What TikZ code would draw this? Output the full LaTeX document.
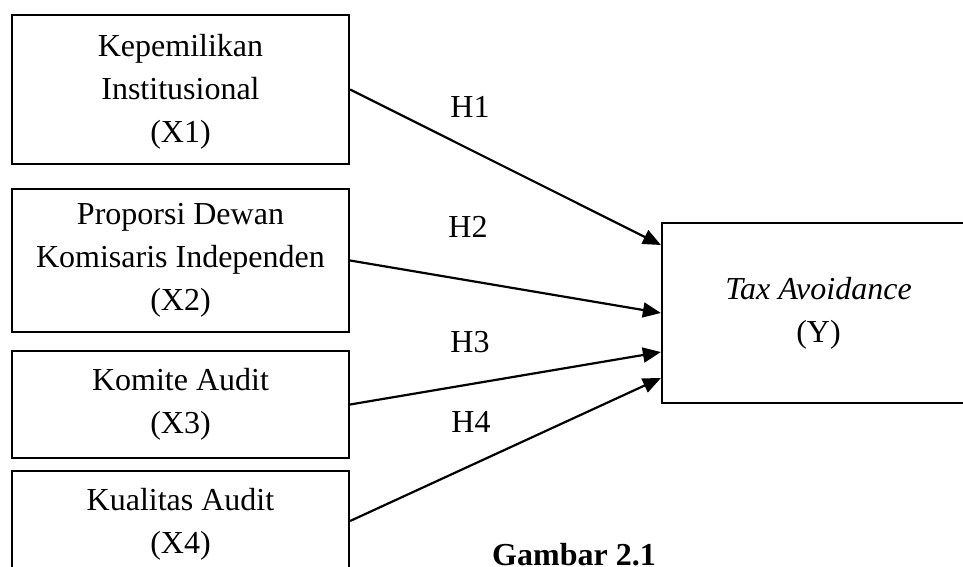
\documentclass[tikz,border=0pt]{standalone}
\usepackage{fontspec}
\setmainfont{Liberation Serif}
\usetikzlibrary{arrows.meta}
\tikzset{
  varbox/.style={draw=black, line width=2.2pt, rectangle, align=center, inner sep=0pt,
    font=\fontsize{32}{43}\selectfont},
  hlabel/.style={font=\fontsize{32}{43}\selectfont, inner sep=0pt},
  link/.style={line width=2.2pt, -{Triangle[length=18pt,width=15pt]}}
}
\begin{document}
\begin{tikzpicture}[x=1pt,y=-1pt]
\useasboundingbox (0,0) rectangle (963,567);
\node[varbox, minimum width=337pt, minimum height=149pt] (x1) at (180.5,89.5)
  {\rule{0pt}{26pt}Kepemilikan\\Institusional\\(X1)};
\node[varbox, minimum width=337pt, minimum height=143pt] (x2) at (180.5,260.5)
  {Proporsi Dewan\\Komisaris Independen\\(X2)};
\node[varbox, minimum width=337pt, minimum height=107pt] (x3) at (180.5,404.5)
  {Komite Audit\\(X3)};
\node[varbox, minimum width=337pt, minimum height=100pt] (x4) at (180.5,521)
  {\rule{0pt}{28pt}Kualitas Audit\\(X4)};
\node[varbox, minimum width=313pt, minimum height=180pt] (y) at (818.5,313)
  {\textit{Tax Avoidance}\\(Y)};
\draw[link] (x1.east) -- ([yshift=68pt]y.west);
\draw[link] (x2.east) -- (y.west);
\draw[link] (x3.east) -- ([yshift=-39pt]y.west);
\draw[link] (x4.east) -- ([yshift=-65pt]y.west);
\node[hlabel] (h1) at (470,107) {H1};
\node[hlabel] (h2) at (468,227) {H2};
\node[hlabel] (h3) at (470,342) {H3};
\node[hlabel] (h4) at (471,422) {H4};
\node[hlabel, anchor=base west, font=\fontsize{32}{43}\selectfont\bfseries] (cap) at (492,565) {Gambar 2.1};
\end{tikzpicture}
\end{document}
